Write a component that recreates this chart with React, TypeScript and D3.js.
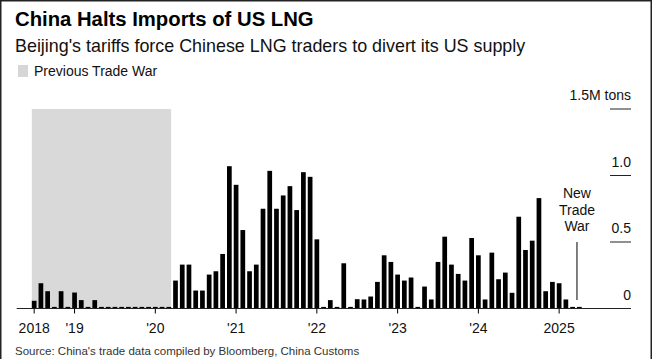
import React from "react";
import * as d3 from "d3";

const W = 652;
const H = 359;

const title = "China Halts Imports of US LNG";
const subtitle = "Beijing's tariffs force Chinese LNG traders to divert its US supply";
const legendLabel = "Previous Trade War";
const sourceText = "Source: China's trade data compiled by Bloomberg, China Customs";

// Monthly US LNG imports into China, million tons (Jul 2018 – Apr 2025)
const startMonth = "2018-07";
const values = [
  0.058, 0.19, 0.13, 0, 0.13, 0, // 2018 Jul-Dec
  0.12, 0.063, 0, 0.063, 0, 0, 0, 0, 0, 0, 0, 0, // 2019
  0, 0, 0, 0.21, 0.33, 0.33, 0.135, 0.135, 0.255, 0.28, 0.41, 1.07, // 2020
  0.93, 0.59, 0.28, 0.33, 0.75, 1.035, 0.75, 0.85, 0.92, 0.74, 1.025, 0.99, // 2021
  0.52, 0, 0.063, 0, 0.34, 0, 0.07, 0.068, 0.09, 0.2, 0.4, 0.35, // 2022
  0.255, 0.21, 0.233, 0, 0.165, 0.068, 0.35, 0.54, 0.33, 0.26, 0.21, 0.53, // 2023
  0.4, 0.068, 0.42, 0.22, 0.27, 0.118, 0.69, 0.44, 0.51, 0.83, 0.13, 0.2, // 2024
  0.19, 0.068, 0, 0, // 2025 Jan-Apr
];

const tickMonths = ["2018-07", "2019-01", "2020-01", "2021-01", "2022-01", "2023-01", "2024-01", "2025-01"];
const tickLabels = ["2018", "'19", "'20", "'21", "'22", "'23", "'24", "2025"];

const yTicks = [0, 0.5, 1.0, 1.5];
const yTickLabels = ["0", "0.5", "1.0", "1.5M tons"];

const prevTradeWar = ["2018-07", "2020-03"];
const newTradeWarMonth = "2025-04";
const newTradeWarLines = ["New", "Trade", "War"];

const fmt = d3.timeFormat("%Y-%m");
const start = d3.timeParse("%Y-%m")(startMonth) as Date;
const months = values.map((_, i) => fmt(d3.timeMonth.offset(start, i)));

const FONT = "'Liberation Sans', Arial, Helvetica, sans-serif";

export default function App() {
  const x = d3
    .scaleBand<string>()
    .domain(months)
    .range([29.8, 583.7])
    .paddingInner(0.3)
    .paddingOuter(0.3);
  const y = d3.scaleLinear().domain([0, 1.5]).range([308.5, 109]);
  const bw = x.bandwidth();
  const base = y(0);

  const shadeX0 = x(prevTradeWar[0]) as number;
  const shadeX1 = (x(prevTradeWar[1]) as number) + bw;
  const annX = x(newTradeWarMonth) as number;

  return (
    <svg
      width={W}
      height={H}
      style={{ position: "absolute", left: 0, top: 0, background: "#fff" }}
      fontFamily={FONT}
    >
      <rect x={0} y={0} width={W} height={H} fill="#fff" />
      {/* titles */}
      <text x={15} y={26} fontSize={20.3} fontWeight="bold" fill="#000">
        {title}
      </text>
      <text x={15} y={52} fontSize={17.9} fill="#111">
        {subtitle}
      </text>
      {/* legend */}
      <rect x={18} y={65} width={10} height={12} fill="#d6d6d6" />
      <text x={34} y={76} fontSize={14} fill="#111">
        {legendLabel}
      </text>

      {/* shading */}
      <rect x={shadeX0} y={y(1.5)} width={shadeX1 - shadeX0} height={base - y(1.5)} fill="#d9d9d9" />

      {/* bars */}
      {values.map((v, i) => {
        const top = v > 0 ? y(v) : base - 1.6;
        return (
          <rect key={i} x={x(months[i]) as number} y={top} width={bw} height={base - top} fill="#000" />
        );
      })}

      {/* baseline */}
      <line x1={16.7} x2={631} y1={base} y2={base} stroke="#222" strokeWidth={1} />

      {/* x ticks */}
      {tickMonths.map((m, i) => {
        const cx = (x(m) as number) + bw / 2;
        return (
          <g key={m}>
            <line x1={cx} x2={cx} y1={base} y2={base + 5} stroke="#000" strokeWidth={1} />
            <text x={cx} y={333} fontSize={14} textAnchor="middle" fill="#111">
              {tickLabels[i]}
            </text>
          </g>
        );
      })}

      {/* y ticks */}
      {yTicks.map((t, i) => (
        <g key={t}>
          {t > 0 && <line x1={610} x2={631} y1={y(t)} y2={y(t)} stroke="#222" strokeWidth={1} />}
          <text x={631} y={y(t) - 9} fontSize={14} textAnchor="end" fill="#111">
            {yTickLabels[i]}
          </text>
        </g>
      ))}

      {/* annotation */}
      <line x1={annX} x2={annX} y1={y(0.5)} y2={base - 8.5} stroke="#000" strokeWidth={1} />
      {newTradeWarLines.map((l, i) => (
        <text key={l} x={annX} y={198 + i * 16.5} fontSize={14} textAnchor="middle" fill="#111">
          {l}
        </text>
      ))}

      {/* source */}
      <text x={15} y={355} fontSize={11.5} fill="#333">
        {sourceText}
      </text>

      {/* frame */}
      <rect x={0.75} y={0.75} width={W - 1.5} height={H + 5} fill="none" stroke="#222" strokeWidth={1.5} />
    </svg>
  );
}
